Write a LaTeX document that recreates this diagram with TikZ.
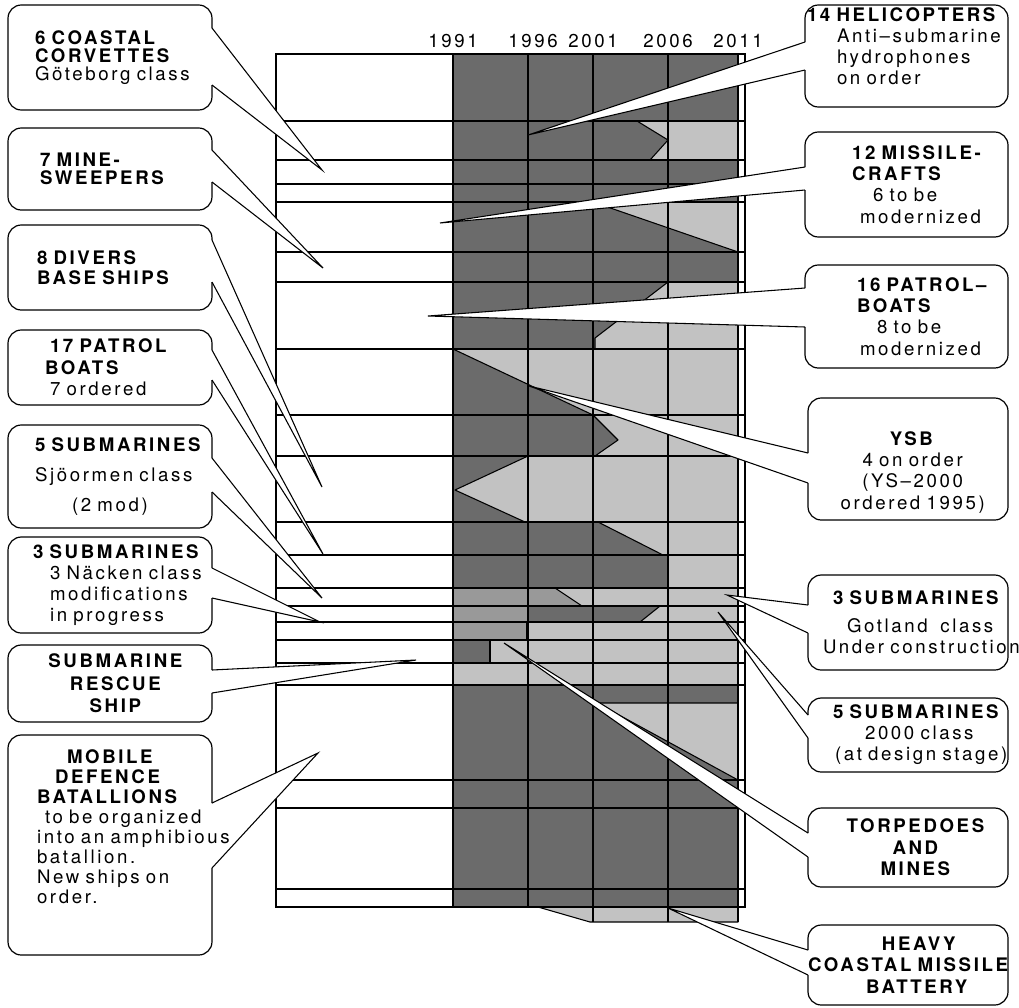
\documentclass[tikz,border=0pt]{standalone}
\usepackage{fontspec}
\setmainfont{TeX Gyre Heros}[LetterSpace=14, WordSpace=1.4]
\usetikzlibrary{calc}
\definecolor{dk}{gray}{0.42}
\definecolor{md}{gray}{0.6}
\definecolor{lt}{gray}{0.76}
\pgfdeclarelayer{chart}
\pgfdeclarelayer{wedgefill}
\pgfsetlayers{chart,wedgefill,main}
\newcommand\cfs[1]{\fontsize{14}{#1}\selectfont\hyphenpenalty=10000 \exhyphenpenalty=10000 }
\newcommand\wedgeL[4]{\path ($(#1.north east)+(0,#2)$) coordinate (#1-a) ($(#1.north east)+(0,#3)$) coordinate (#1-b);
  \begin{pgfonlayer}{wedgefill}\fill[white] (#1-a) -- (#4) -- (#1-b) -- cycle;\end{pgfonlayer}
  \draw[boxline] (#1-a) -- (#1.north east) -- (#1.north west) -- (#1.south west) -- (#1.south east) -- (#1-b);
  \draw[wedge] (#1-a) -- (#4) -- (#1-b);}
\newcommand\wedgeR[4]{\path ($(#1.north west)+(0,#2)$) coordinate (#1-a) ($(#1.north west)+(0,#3)$) coordinate (#1-b);
  \begin{pgfonlayer}{wedgefill}\fill[white] (#1-a) -- (#4) -- (#1-b) -- cycle;\end{pgfonlayer}
  \draw[boxline] (#1-a) -- (#1.north west) -- (#1.north east) -- (#1.south east) -- (#1.south west) -- (#1-b);
  \draw[wedge] (#1-a) -- (#4) -- (#1-b);}
\begin{document}
\hyphenpenalty=10000 \exhyphenpenalty=10000
\begin{tikzpicture}[x=0.75pt,y=-0.75pt,
  grid/.style={line width=0.9pt},
  ltfill/.style={fill=lt, draw=black, line width=0.8pt, line join=round},
  callout/.style={draw=none, fill=white, rounded corners=10pt, outer sep=0pt, anchor=north west, inner ysep=0pt, align=left},
  boxline/.style={line width=0.9pt, rounded corners=10pt},
  wedge/.style={line width=0.8pt},
  year/.style={anchor=base, inner sep=0pt, font=\cfs{15}}]
\useasboundingbox (0,0) rectangle (1019,1007);

\begin{pgfonlayer}{chart}
% ---- chart shading ----
\fill[dk] (453,54) rectangle (738,907);
\fill[md] (453,588) -- (555,588) -- (582,606) -- (453,606) -- cycle;
\fill[md] (453,606) rectangle (527,640);
\path[ltfill] (637,121) -- (738,121) -- (738,160) -- (650,160) -- (668,140) -- cycle;
\path[ltfill] (593,202) -- (738,202) -- (738,252) -- cycle;
\path[ltfill] (668,282) -- (738,282) -- (738,349) -- (595,349) -- (595,338) -- cycle;
\path[ltfill] (453,349) -- (738,349) -- (738,415) -- (593,415) -- cycle;
\path[ltfill] (593,415) -- (738,415) -- (738,456) -- (595,456) -- (618,440) -- cycle;
\path[ltfill] (528,456) -- (738,456) -- (738,522) -- (525,522) -- (455,490) -- cycle;
\path[ltfill] (598,522) -- (738,522) -- (738,555) -- (663,555) -- cycle;
\path[ltfill] (668,555) rectangle (738,588);
\path[ltfill] (555,588) -- (738,588) -- (738,606) -- (582,606) -- cycle;
\path[ltfill] (660,606) -- (738,606) -- (738,622) -- (640,622) -- cycle;
\path[ltfill] (527,622) rectangle (738,640);
\path[ltfill] (490,640) rectangle (738,663);
\path[ltfill] (453,663) rectangle (738,685);
\path[ltfill] (597,703) -- (738,703) -- (738,780) -- cycle;
\path[ltfill] (538,907) -- (738,907) -- (738,922) -- (590,922) -- cycle;
% ---- chart grid ----
\draw[grid] (276,54) rectangle (745,907);
\foreach \y in {121,160,184,202,252,282,349,415,456,522,555,588,606,622,640,663,685,780,808,889}
  \draw[grid] (276,\y) -- (745,\y);
\draw[grid] (453,54) -- (453,907);
\draw[grid] (528,54) -- (528,907);
\draw[grid] (593,54) -- (593,922);
\draw[grid] (668,54) -- (668,922);
\draw[grid] (738,54) -- (738,922);
\draw[grid] (490,640) -- (490,663);
\end{pgfonlayer}

% ---- years ----
\node[year] (y1991) at (453,47) {1991};
\node[year] (y1996) at (533,47) {1996};
\node[year] (y2001) at (593,47) {2001};
\node[year] (y2006) at (668,47) {2006};
\node[year] (y2011) at (738,47) {2011};

% ---- left callouts ----
\node[callout, text width=112.5pt, inner xsep=20.25pt, minimum height=78.75pt, font=\cfs{13.3}] (c1) at (8,5)
  {\textbf{6~COASTAL}\\\textbf{CORVETTES}\\Göteborg~class};
\node[callout, text width=105pt, inner xsep=24pt, minimum height=61.5pt, font=\cfs{13.7}] (c2) at (8,128)
  {\textbf{7~MINE-}\\\textbf{SWEEPERS}};
\node[callout, text width=109.5pt, inner xsep=21.75pt, minimum height=63.75pt, font=\cfs{15}] (c3) at (8,225)
  {\textbf{8~DIVERS}\\\textbf{BASE~SHIPS}};
\node[callout, text width=97.5pt, inner xsep=27.75pt, minimum height=56.25pt, font=\cfs{16}] (c4) at (8,330)
  {\hspace*{3.75pt}\textbf{17~PATROL}\\\textbf{BOATS}\\\hspace*{3.75pt}7~ordered};
\node[callout, text width=112.5pt, inner xsep=20.25pt, minimum height=77.25pt, font=\cfs{22.5}] (c5) at (8,425)
  {\textbf{5~SUBMARINES}\\Sjöormen~class\\\hspace*{27.75pt}(2~mod)};
\node[callout, text width=115.5pt, inner xsep=18.75pt, minimum height=72pt, font=\cfs{15.75}] (c6) at (8,537)
  {\textbf{3~SUBMARINES}\\\hspace*{12.75pt}3~Näcken~class\\\hspace*{12.75pt}modifications\\\hspace*{12.75pt}in~progress};
\node[callout, align=center, text width=153pt, inner xsep=0pt, minimum height=57.75pt, font=\cfs{17}] (c7) at (8,645)
  {\hspace*{10pt}\textbf{SUBMARINE}\\\hspace*{10pt}\textbf{RESCUE}\\\hspace*{10pt}\textbf{SHIP}};
\node[callout, text width=109.5pt, inner xsep=21.75pt, minimum height=165pt, font=\cfs{15}] (c8) at (8,735)
  {\hspace*{22.5pt}\textbf{MOBILE}\\\hspace*{13.5pt}\textbf{DEFENCE}\\\textbf{BATALLIONS}\\\hspace*{6pt}to~be~organized\\into~an~amphibious\\batallion.\\New~ships~on\\order.\rule[-27pt]{0pt}{0pt}};

% ---- right callouts ----
\node[callout, text width=149.25pt, inner xsep=1.5pt, minimum height=76.5pt, font=\cfs{15.75}] (c9) at (805,5)
  {\textbf{14~HELICOPTERS}\\\hspace*{22.5pt}Anti–submarine\\\hspace*{22.5pt}hydrophones\\\hspace*{22.5pt}on~order\rule[-15pt]{0pt}{0pt}};
\node[callout, text width=122.25pt, inner xsep=15pt, minimum height=78.75pt, font=\cfs{16}] (c10) at (805,132)
  {\hspace*{20.25pt}\textbf{12~MISSILE-}\\\hspace*{20.25pt}\textbf{CRAFTS}\\\hspace*{36pt}6~to~be\\\hspace*{26.25pt}modernized};
\node[callout, text width=122.25pt, inner xsep=15pt, minimum height=77.25pt, font=\cfs{16}] (c11) at (805,265)
  {\hspace*{24pt}\textbf{16~PATROL–}\\\hspace*{24pt}\textbf{BOATS}\\\hspace*{39pt}8~to~be\\\hspace*{26.25pt}modernized};
\node[callout, align=center, text width=150pt, inner xsep=0pt, minimum height=91.5pt, font=\cfs{16}] (c12) at (808,398)
  {\rule{0pt}{30pt}\hspace*{7pt}\textbf{YSB}\\\hspace*{7pt}4~on~order\\\hspace*{7pt}(YS–2000\\\hspace*{7pt}ordered~1995)};
\node[callout, text width=127.5pt, inner xsep=11.25pt, minimum height=71.25pt, font=\cfs{16}] (c13) at (808,575)
  {\hspace*{7.5pt}\textbf{3~SUBMARINES}\\[5pt]\hspace*{18pt}Gotland~~class\\Under~construction};
\node[callout, text width=112.5pt, inner xsep=18.75pt, minimum height=55.5pt, font=\cfs{15.75}] (c14) at (808,698)
  {\textbf{5~SUBMARINES}\\\hspace*{24pt}2000~class\\\hspace*{1.5pt}(at~design~stage)};
\node[callout, align=center, text width=150pt, inner xsep=0pt, minimum height=59.25pt, font=\cfs{16}] (c15) at (808,808)
  {\hspace*{13pt}\textbf{TORPEDOES}\\\hspace*{13pt}\textbf{AND}\\\hspace*{13pt}\textbf{MINES}};
\node[callout, align=center, text width=150pt, inner xsep=0pt, minimum height=60pt, font=\cfs{16}] (c16) at (808,925)
  {\hspace*{18pt}\textbf{HEAVY}\\\textbf{COASTAL~MISSILE}\\\hspace*{15pt}\textbf{BATTERY}};

% ---- wedge tips ----
\coordinate (t1) at (322,170);
\coordinate (t2) at (323,268);
\coordinate (t3) at (322,487);
\coordinate (t4) at (323,554);
\coordinate (t5) at (322,598);
\coordinate (t6) at (320,622);
\coordinate (t7) at (416,660);
\coordinate (t8) at (318,753);
\coordinate (t9) at (528,135);
\coordinate (t10) at (440,223);
\coordinate (t11) at (428,316);
\coordinate (t12) at (529,386);
\coordinate (t13) at (727,595);
\coordinate (t14) at (718,612);
\coordinate (t15) at (504,643);
\coordinate (t16) at (668,908);

% ---- box outlines and wedges ----
\wedgeL{c1}{23}{80}{t1}
\wedgeL{c2}{22}{54}{t2}
\wedgeL{c3}{15}{57}{t3}
\wedgeL{c4}{20}{50}{t4}
\wedgeL{c5}{33}{67}{t5}
\wedgeL{c6}{31}{61}{t6}
\wedgeL{c7}{25}{48}{t7}
\wedgeL{c8}{68}{133}{t8}
\wedgeR{c9}{37}{65}{t9}
\wedgeR{c10}{35}{58}{t10}
\wedgeR{c11}{23}{62}{t11}
\wedgeR{c12}{55}{85}{t12}
\wedgeR{c13}{30}{58}{t13}
\wedgeR{c14}{17}{40}{t14}
\wedgeR{c15}{25}{49}{t15}
\wedgeR{c16}{25}{50}{t16}
\end{tikzpicture}
\end{document}
